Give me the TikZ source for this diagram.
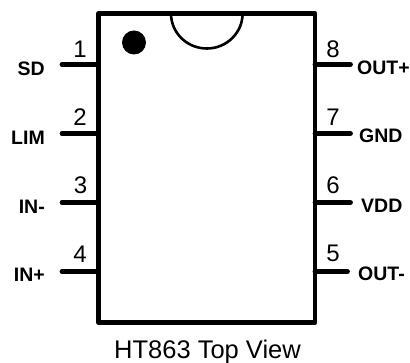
\documentclass[tikz,border=0pt]{standalone}
\usepackage{fontspec}
\setmainfont{Liberation Sans}
\tikzset{
    pin/.style={line width=4.8pt, line cap=round},
    signal/.style={font=\fontsize{19.5}{19.5}\selectfont\bfseries, inner sep=0pt},
    pinnum/.style={font=\fontsize{24}{24}\selectfont, inner sep=0pt}
}

\begin{document}
\begin{tikzpicture}[x=1pt,y=-1pt]
            \useasboundingbox (0,0) rectangle (410,363);

            \coordinate (nw) at (98.5,13.5);
            \coordinate (ne) at (315,13.5);
            \coordinate (sw) at (98.5,322.5);
            \coordinate (se) at (315,322.5);
            \coordinate (notchl) at (171,13.5);

            \draw [line width=2.6pt] (notchl) arc [start angle=180, end angle=360, x radius=35.8, y radius=-35];
            \draw [line width=4.8pt, line join=round] (nw) -- (ne) -- (se) -- (sw) -- cycle;
            \node (dot) [circle, fill, inner sep=0pt, minimum size=24pt] at (134,42.5) {};

            \coordinate (p1) at (98.5,64.5);
            \coordinate (p2) at (98.5,133.5);
            \coordinate (p3) at (98.5,202.5);
            \coordinate (p4) at (98.5,271.5);
            \coordinate (p8) at (315,64.5);
            \coordinate (p7) at (315,133.5);
            \coordinate (p6) at (315,202.5);
            \coordinate (p5) at (315,271.5);

            \coordinate (e1) at (62,64.5);
            \coordinate (e2) at (62,133.5);
            \coordinate (e3) at (62,202.5);
            \coordinate (e4) at (62,271.5);
            \coordinate (e8) at (350.5,64.5);
            \coordinate (e7) at (350.5,133.5);
            \coordinate (e6) at (350.5,202.5);
            \coordinate (e5) at (347.5,271.5);

            \draw [pin] (e1) -- (p1);
            \draw [pin] (e2) -- (p2);
            \draw [pin] (e3) -- (p3);
            \draw [pin] (e4) -- (p4);
            \draw [pin] (e8) -- (p8);
            \draw [pin] (e7) -- (p7);
            \draw [pin] (e6) -- (p6);
            \draw [pin] (e5) -- (p5);

            \node (n1) [pinnum] at (80,49.5) {1};
            \node (n2) [pinnum] at (80,117) {2};
            \node (n3) [pinnum] at (80.5,185) {3};
            \node (n4) [pinnum] at (80,254) {4};
            \node (n8) [pinnum] at (333,49) {8};
            \node (n7) [pinnum] at (333,117.5) {7};
            \node (n6) [pinnum] at (333,185) {6};
            \node (n5) [pinnum] at (333,253.5) {5};

            \node (sd) [signal, anchor=east] at (45,69) {SD};
            \node (lim) [signal, anchor=east] at (45,138) {LIM};
            \node (inm) [signal, anchor=east] at (45,207) {IN-};
            \node (inp) [signal, anchor=east] at (45,275) {IN+};
            \node (outp) [signal, anchor=west] at (357,68) {OUT+};
            \node (gnd) [signal, anchor=west] at (359,136) {GND};
            \node (vdd) [signal, anchor=west] at (361,205.5) {VDD};
            \node (outm) [signal, anchor=west] at (358,274) {OUT-};

            \node (title) [font=\fontsize{25.5}{25.5}\selectfont, inner sep=0pt] at (207.5,352) {HT863 Top View};
        \end{tikzpicture}
\end{document}
